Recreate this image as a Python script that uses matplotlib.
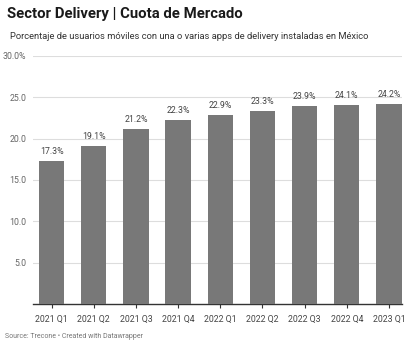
import matplotlib
matplotlib.use("Agg")
import matplotlib.pyplot as plt

quarters = ["2021 Q1", "2021 Q2", "2021 Q3", "2021 Q4", "2022 Q1",
            "2022 Q2", "2022 Q3", "2022 Q4", "2023 Q1"]
share = [17.3, 19.1, 21.2, 22.3, 22.9, 23.3, 23.9, 24.1, 24.2]
yticks = [5, 10, 15, 20, 25, 30]
ytick_labels = ["5.0", "10.0", "15.0", "20.0", "25.0", "30.0%"]

plt.rcParams['font.family'] = ['Roboto', 'DejaVu Sans']

fig = plt.figure(figsize=(4.06, 3.41), dpi=100)
ax = fig.add_axes([0.0813, 0.1085, 0.909, 0.7273])

x = range(len(quarters))
ax.bar(x, share, width=0.6, color="#787878", zorder=3)
for xi, v in zip(x, share):
  ax.text(xi, v + 0.6, f"{v:.1f}%", ha="center", va="bottom",
          fontsize=6.3, color="#444444")

ax.set_xlim(-0.44, 8.31)
ax.set_ylim(0, 30)
ax.set_yticks(yticks)
ax.set_yticklabels(ytick_labels)
ax.set_xticks(list(x))
ax.set_xticklabels(quarters)
ax.grid(axis="y", color="#dddddd", linewidth=0.8, zorder=0)
for s in ["top", "right", "left"]:
  ax.spines[s].set_visible(False)
ax.spines["bottom"].set_color("#333333")
ax.spines["bottom"].set_linewidth(1.0)
ax.tick_params(axis="y", length=0, pad=5, labelsize=6.3, labelcolor="#666666")
ax.tick_params(axis="x", length=3, width=0.8, color="#333333", pad=5,
               labelsize=6.3, labelcolor="#444444")

fig.text(0.017, 0.958, "Sector Delivery | Cuota de Mercado", fontsize=10.7,
         fontweight="bold", color="#1a1a1a", va="center")
fig.text(0.025, 0.892,
         "Porcentaje de usuarios móviles con una o varias apps de delivery instaladas en México",
         fontsize=6.75, color="#333333", va="center")
fig.text(0.012, 0.002, "Source: Trecone • Created with Datawrapper",
         fontsize=5, color="#777777", va="bottom")

fig.savefig("out.png", dpi=100)
